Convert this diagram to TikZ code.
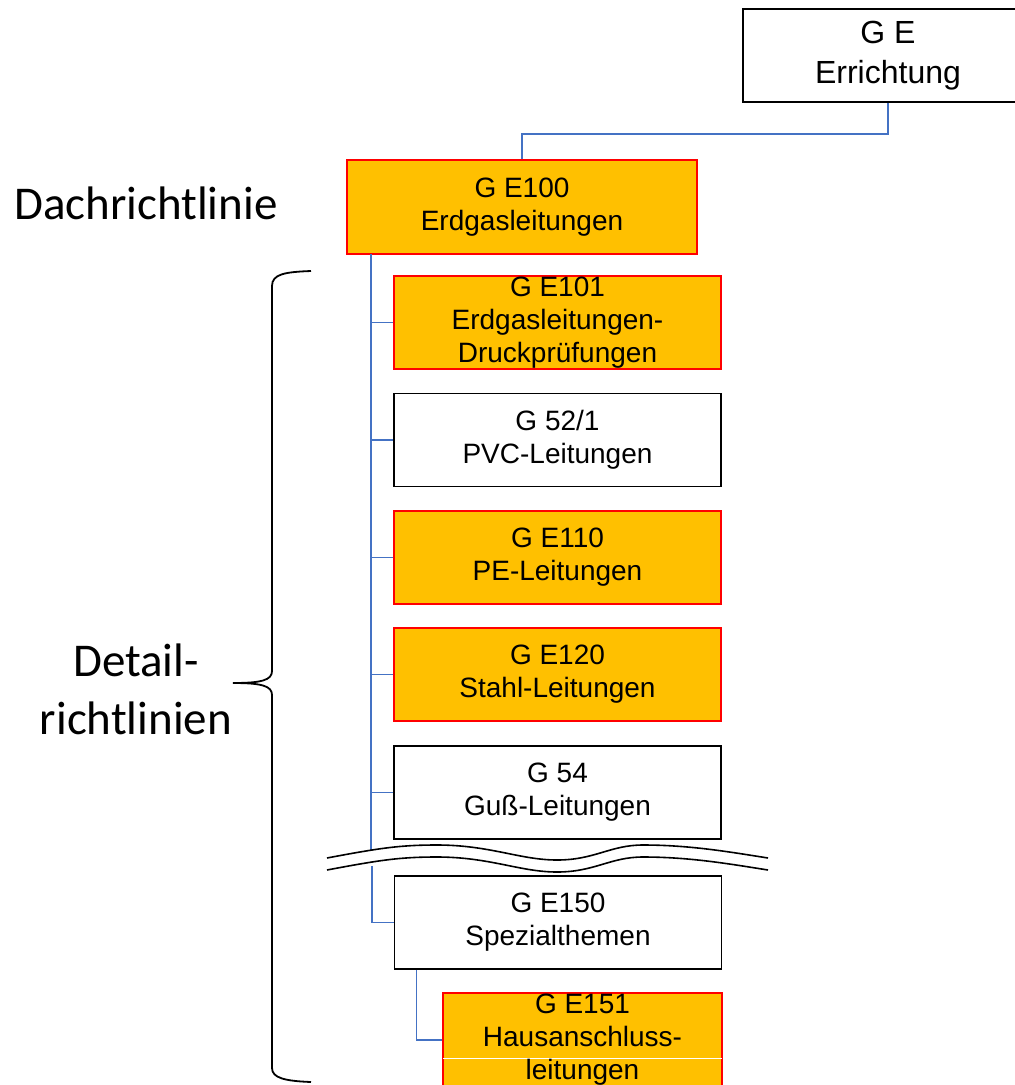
\documentclass[tikz,border=0pt]{standalone}
\usepackage{fontspec}
\setmainfont{Liberation Sans}
\newfontfamily\calfont{Carlito}
\usetikzlibrary{calc}
\definecolor{boxorange}{HTML}{FFC000}
\definecolor{boxred}{HTML}{FF0000}
\definecolor{connblue}{HTML}{4472C4}
\tikzset{
  basebox/.style={rectangle, inner sep=0pt, align=center, minimum width=327pt, minimum height=93pt,
    font=\fontsize{28}{33}\selectfont},
  hbox/.style={basebox, fill=boxorange, draw=boxred, line width=1.6pt},
  wbox/.style={basebox, fill=white, draw=black, line width=1.8pt},
  conn/.style={draw=connblue, line width=1.5pt},
  trunkline/.style={draw=connblue, line width=2.6pt},
  bigtext/.style={font=\calfont\fontsize{47}{58}\selectfont, align=center, inner sep=0pt},
}
\begin{document}
\begin{tikzpicture}[x=1pt, y=-1pt]
\useasboundingbox (0,0) rectangle (1015,1085);
\clip (0,0) rectangle (1015,1085);
\fill[white] (0,0) rectangle (1015,1085);

% boxes
\node[wbox, minimum width=290pt, minimum height=93pt, font=\fontsize{32}{40}\selectfont] (ge) at (888,55.5) {G E\\Errichtung};
\node[hbox, minimum width=350pt, minimum height=94pt] (e100) at (522,207) {G E100\\Erdgasleitungen};
\node[hbox] (e101) at (557.5,322.5) {};
\node[font=\fontsize{28}{33}\selectfont, align=center, inner sep=0pt] (e101t) at (e101.center) {G E101\\Erdgasleitungen-\\Druckprüfungen};
\node[wbox] (g52) at (557.5,440) {G 52/1\\PVC-Leitungen};
\node[hbox] (e110) at (557.5,557.5) {G E110\\PE-Leitungen};
\node[hbox] (e120) at (557.5,674.5) {G E120\\Stahl-Leitungen};
\node[wbox] (g54) at (557.5,792.5) {G 54\\Guß-Leitungen};
\node[wbox] (e150) at (558,922.5) {G E150\\Spezialthemen};
\node[hbox, minimum width=279pt, minimum height=94pt] (e151) at (582.5,1040) {};
\draw[white, line width=1pt] ($(e151.west)+(1,18)$) -- ($(e151.east)+(-1,18)$);
\node[font=\fontsize{28}{33}\selectfont, align=center, inner sep=0pt] (e151t) at (e151.center) {G E151\\Hausanschluss-\\leitungen};

% connectors
\draw[conn] (ge.south) -- ++(0,31) -| (e100.north);
\coordinate (ttop) at (371,254);
\coordinate (tbot) at (371,852);
\draw[trunkline] (ttop) -- (tbot);
\foreach \n in {e101,g52,e110,e120,g54}{
  \draw[conn] (\n.west -| ttop) -- (\n.west);
}
\coordinate (brk) at (372,866);
\draw[conn] (brk) |- (e150.west);
\coordinate (sub) at ($(e150.south west)+(23,0)$);
\draw[conn] (sub) |- (e151.west);

% break symbol
\fill[white] (327,858) .. controls (380,848) and (400,845) .. (437,845)
  .. controls (490,845) and (520,860) .. (557,860)
  .. controls (595,860) and (610,845) .. (643,845)
  .. controls (690,845) and (730,852) .. (768,858)
  -- (768,870) .. controls (730,864) and (690,857) .. (643,857)
  .. controls (610,857) and (595,872) .. (557,872)
  .. controls (520,872) and (490,857) .. (437,857)
  .. controls (400,857) and (380,860) .. (327,870) -- cycle;
\draw[line width=1.6pt] (327,858) .. controls (380,848) and (400,845) .. (437,845)
  .. controls (490,845) and (520,860) .. (557,860)
  .. controls (595,860) and (610,845) .. (643,845)
  .. controls (690,845) and (730,852) .. (768,858);
\draw[line width=1.6pt] (327,870) .. controls (380,860) and (400,857) .. (437,857)
  .. controls (490,857) and (520,872) .. (557,872)
  .. controls (595,872) and (610,857) .. (643,857)
  .. controls (690,857) and (730,864) .. (768,870);

% brace
\draw[line width=1.8pt] (311,271) .. controls (285,272) and (272,274) .. (272,286)
  -- (272,671) .. controls (272,680) and (262,683) .. (233,683)
  .. controls (262,683) and (272,686) .. (272,695)
  -- (272,1068) .. controls (272,1078) and (285,1081) .. (311,1082);

% side labels
\node[bigtext, anchor=west] (dach) at (14,203) {Dachrichtlinie};
\node[bigtext] (detail) at (136,689) {Detail-\\richtlinien};
\end{tikzpicture}
\end{document}
